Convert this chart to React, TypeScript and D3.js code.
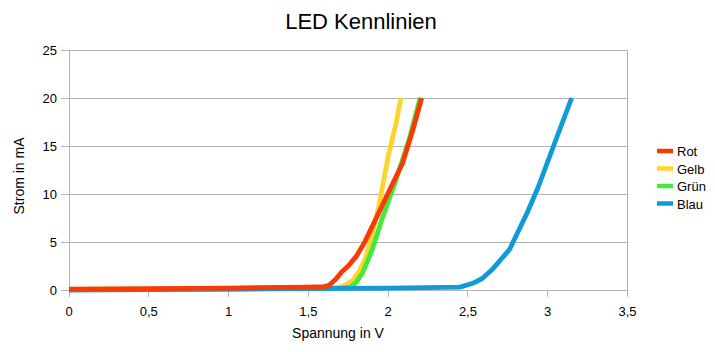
import React from "react";
import * as d3 from "d3";

const title = "LED Kennlinien";
const xLabel = "Spannung in V";
const yLabel = "Strom in mA";
const xTicks = [0, 0.5, 1, 1.5, 2, 2.5, 3, 3.5];
const yTicks = [0, 5, 10, 15, 20, 25];

const seriesNames = ["Rot", "Gelb", "Grün", "Blau"];
const seriesColors = ["#fa3a05", "#ffd42c", "#43ea3c", "#0f9bd8"];

const rotData: [number, number][] = [
  [0, 0.1], [0.5, 0.15], [1, 0.2], [1.5, 0.3], [1.6, 0.35], [1.63, 0.5], [1.67, 1.1],
  [1.71, 1.9], [1.75, 2.5], [1.8, 3.5], [1.85, 4.9], [1.92, 7.3], [2.0, 10.1],
  [2.09, 13.2], [2.15, 16.4], [2.21, 20],
];
const gelbData: [number, number][] = [
  [0, 0.05], [1, 0.1], [1.65, 0.2], [1.72, 0.4], [1.78, 1], [1.82, 2], [1.86, 3.4],
  [1.9, 5.8], [1.94, 8.6], [2.0, 13.9], [2.05, 17.4], [2.08, 20],
];
const gruenData: [number, number][] = [
  [0, 0.05], [1, 0.1], [1.7, 0.2], [1.76, 0.3], [1.8, 0.8], [1.84, 1.8], [1.9, 4.2],
  [1.96, 7.3], [2.05, 11.5], [2.13, 15.6], [2.2, 20],
];
const blauData: [number, number][] = [
  [0, 0], [1, 0.1], [2, 0.2], [2.45, 0.3], [2.53, 0.7], [2.59, 1.2], [2.65, 2.1],
  [2.76, 4.2], [2.87, 8], [2.94, 10.7], [3.05, 15.6], [3.15, 20],
];

const allData = [rotData, gelbData, gruenData, blauData];
const drawOrder = [1, 2, 3, 0];

const W = 715;
const H = 352;
const font = "'Liberation Sans', Arial, sans-serif";
const gridColor = "#b3b3b3";

export default function App() {
  const x = d3.scaleLinear().domain([0, 3.5]).range([69, 627.5]);
  const y = d3.scaleLinear().domain([0, 25]).range([290, 50]);
  const line = d3
    .line<[number, number]>()
    .x((d) => x(d[0]))
    .y((d) => y(d[1]));
  const fmt = (v: number) => String(v).replace(".", ",");

  return (
    <svg
      width={W}
      height={H}
      style={{ position: "absolute", left: 0, top: 0, background: "#fff" }}
      fontFamily={font}
    >
      <rect x={0} y={0} width={W} height={H} fill="#fff" />
      {yTicks.map((t) => (
        <g key={"y" + t}>
          <line x1={61} x2={x(3.5)} y1={y(t)} y2={y(t)} stroke={gridColor} strokeWidth={1} shapeRendering="crispEdges" />
          <text x={57} y={y(t) + 5} textAnchor="end" fontSize={13} fill="#000">
            {fmt(t)}
          </text>
        </g>
      ))}
      <line x1={x(0)} x2={x(0)} y1={y(25)} y2={297} stroke={gridColor} strokeWidth={1} shapeRendering="crispEdges" />
      <line x1={x(3.5)} x2={x(3.5)} y1={y(25)} y2={297} stroke={gridColor} strokeWidth={1} shapeRendering="crispEdges" />
      {xTicks.map((t) => (
        <g key={"x" + t}>
          <line x1={x(t)} x2={x(t)} y1={290} y2={297} stroke={gridColor} strokeWidth={1} shapeRendering="crispEdges" />
          <text x={x(t)} y={316} textAnchor="middle" fontSize={13} fill="#000">
            {fmt(t)}
          </text>
        </g>
      ))}
      {drawOrder.map((i) => (
        <path
          key={seriesNames[i]}
          d={line(allData[i]) || ""}
          fill="none"
          stroke={seriesColors[i]}
          strokeWidth={4.8}
          strokeLinejoin="round"
        />
      ))}
      <text x={361} y={29} textAnchor="middle" fontSize={22} fill="#000">
        {title}
      </text>
      <text x={338} y={338} textAnchor="middle" fontSize={14} fill="#000">
        {xLabel}
      </text>
      <text transform="translate(24,176) rotate(-90)" textAnchor="middle" fontSize={14} fill="#000">
        {yLabel}
      </text>
      {seriesNames.map((n, i) => (
        <g key={"leg" + n}>
          <line x1={657} x2={673} y1={151 + i * 17.5} y2={151 + i * 17.5} stroke={seriesColors[i]} strokeWidth={4.5} />
          <text x={677} y={151 + i * 17.5 + 5} fontSize={13} fill="#000">
            {n}
          </text>
        </g>
      ))}
    </svg>
  );
}
